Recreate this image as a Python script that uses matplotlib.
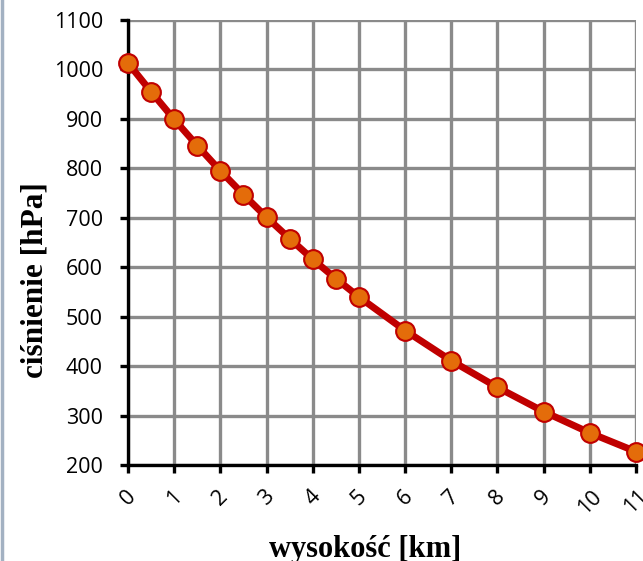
import matplotlib
matplotlib.use("Agg")
import matplotlib.pyplot as plt
from matplotlib.lines import Line2D

heights = [0, 0.5, 1, 1.5, 2, 2.5, 3, 3.5, 4, 4.5, 5, 6, 7, 8, 9, 10, 11]
pressure = [1013, 955, 899, 846, 795, 747, 701, 658, 616, 577, 540, 472, 411, 357, 308, 265, 227]
xticks = list(range(0, 12))
yticks = list(range(200, 1101, 100))

fig = plt.figure(figsize=(6.43, 5.61), dpi=100)
ax = fig.add_axes([128/643, 1-465/561, 508/643, 445/561])

ax.plot(heights, pressure, color="#C00000", lw=5, marker="o", ms=13.5,
        mfc="#E46C0A", mec="#C00000", mew=1.5, clip_on=False, zorder=5)

ax.set_xlim(0, 11)
ax.set_ylim(200, 1100)
ax.set_xticks(xticks)
ax.set_yticks(yticks)
ax.grid(True, color="#8A8A8A", lw=2.4)
ax.set_axisbelow(True)

for s in ["top", "right"]:
    ax.spines[s].set_visible(False)
for s in ["left", "bottom"]:
    ax.spines[s].set_linewidth(2.4)
    ax.spines[s].set_color("black")
    ax.spines[s].set_zorder(4)

ax.tick_params(axis="both", direction="out", length=6, width=2.4, color="black",
               labelsize=15.5)
ax.tick_params(axis="x", pad=9)
ax.tick_params(axis="y", pad=12)
ax.set_yticklabels([str(v) for v in yticks], family="Open Sans")
ax.set_xticklabels([str(v) for v in xticks], family="Open Sans", rotation=45,
                   ha="center")

ax.set_xlabel("wysokość [km]", family="Liberation Serif", weight="bold",
              fontsize=22, va="center", ha="center")
ax.set_ylabel("ciśnienie [hPa]", family="Liberation Serif", weight="bold",
              fontsize=22.5, va="center", ha="center")
ax.xaxis.set_label_coords(0.467, -0.19)
ax.yaxis.set_label_coords(-0.183, 0.415)

fig.add_artist(Line2D([2/643, 2/643], [0, 1], transform=fig.transFigure,
                      color="#A3B1C2", lw=2.5))

fig.savefig("out.png", dpi=100)
